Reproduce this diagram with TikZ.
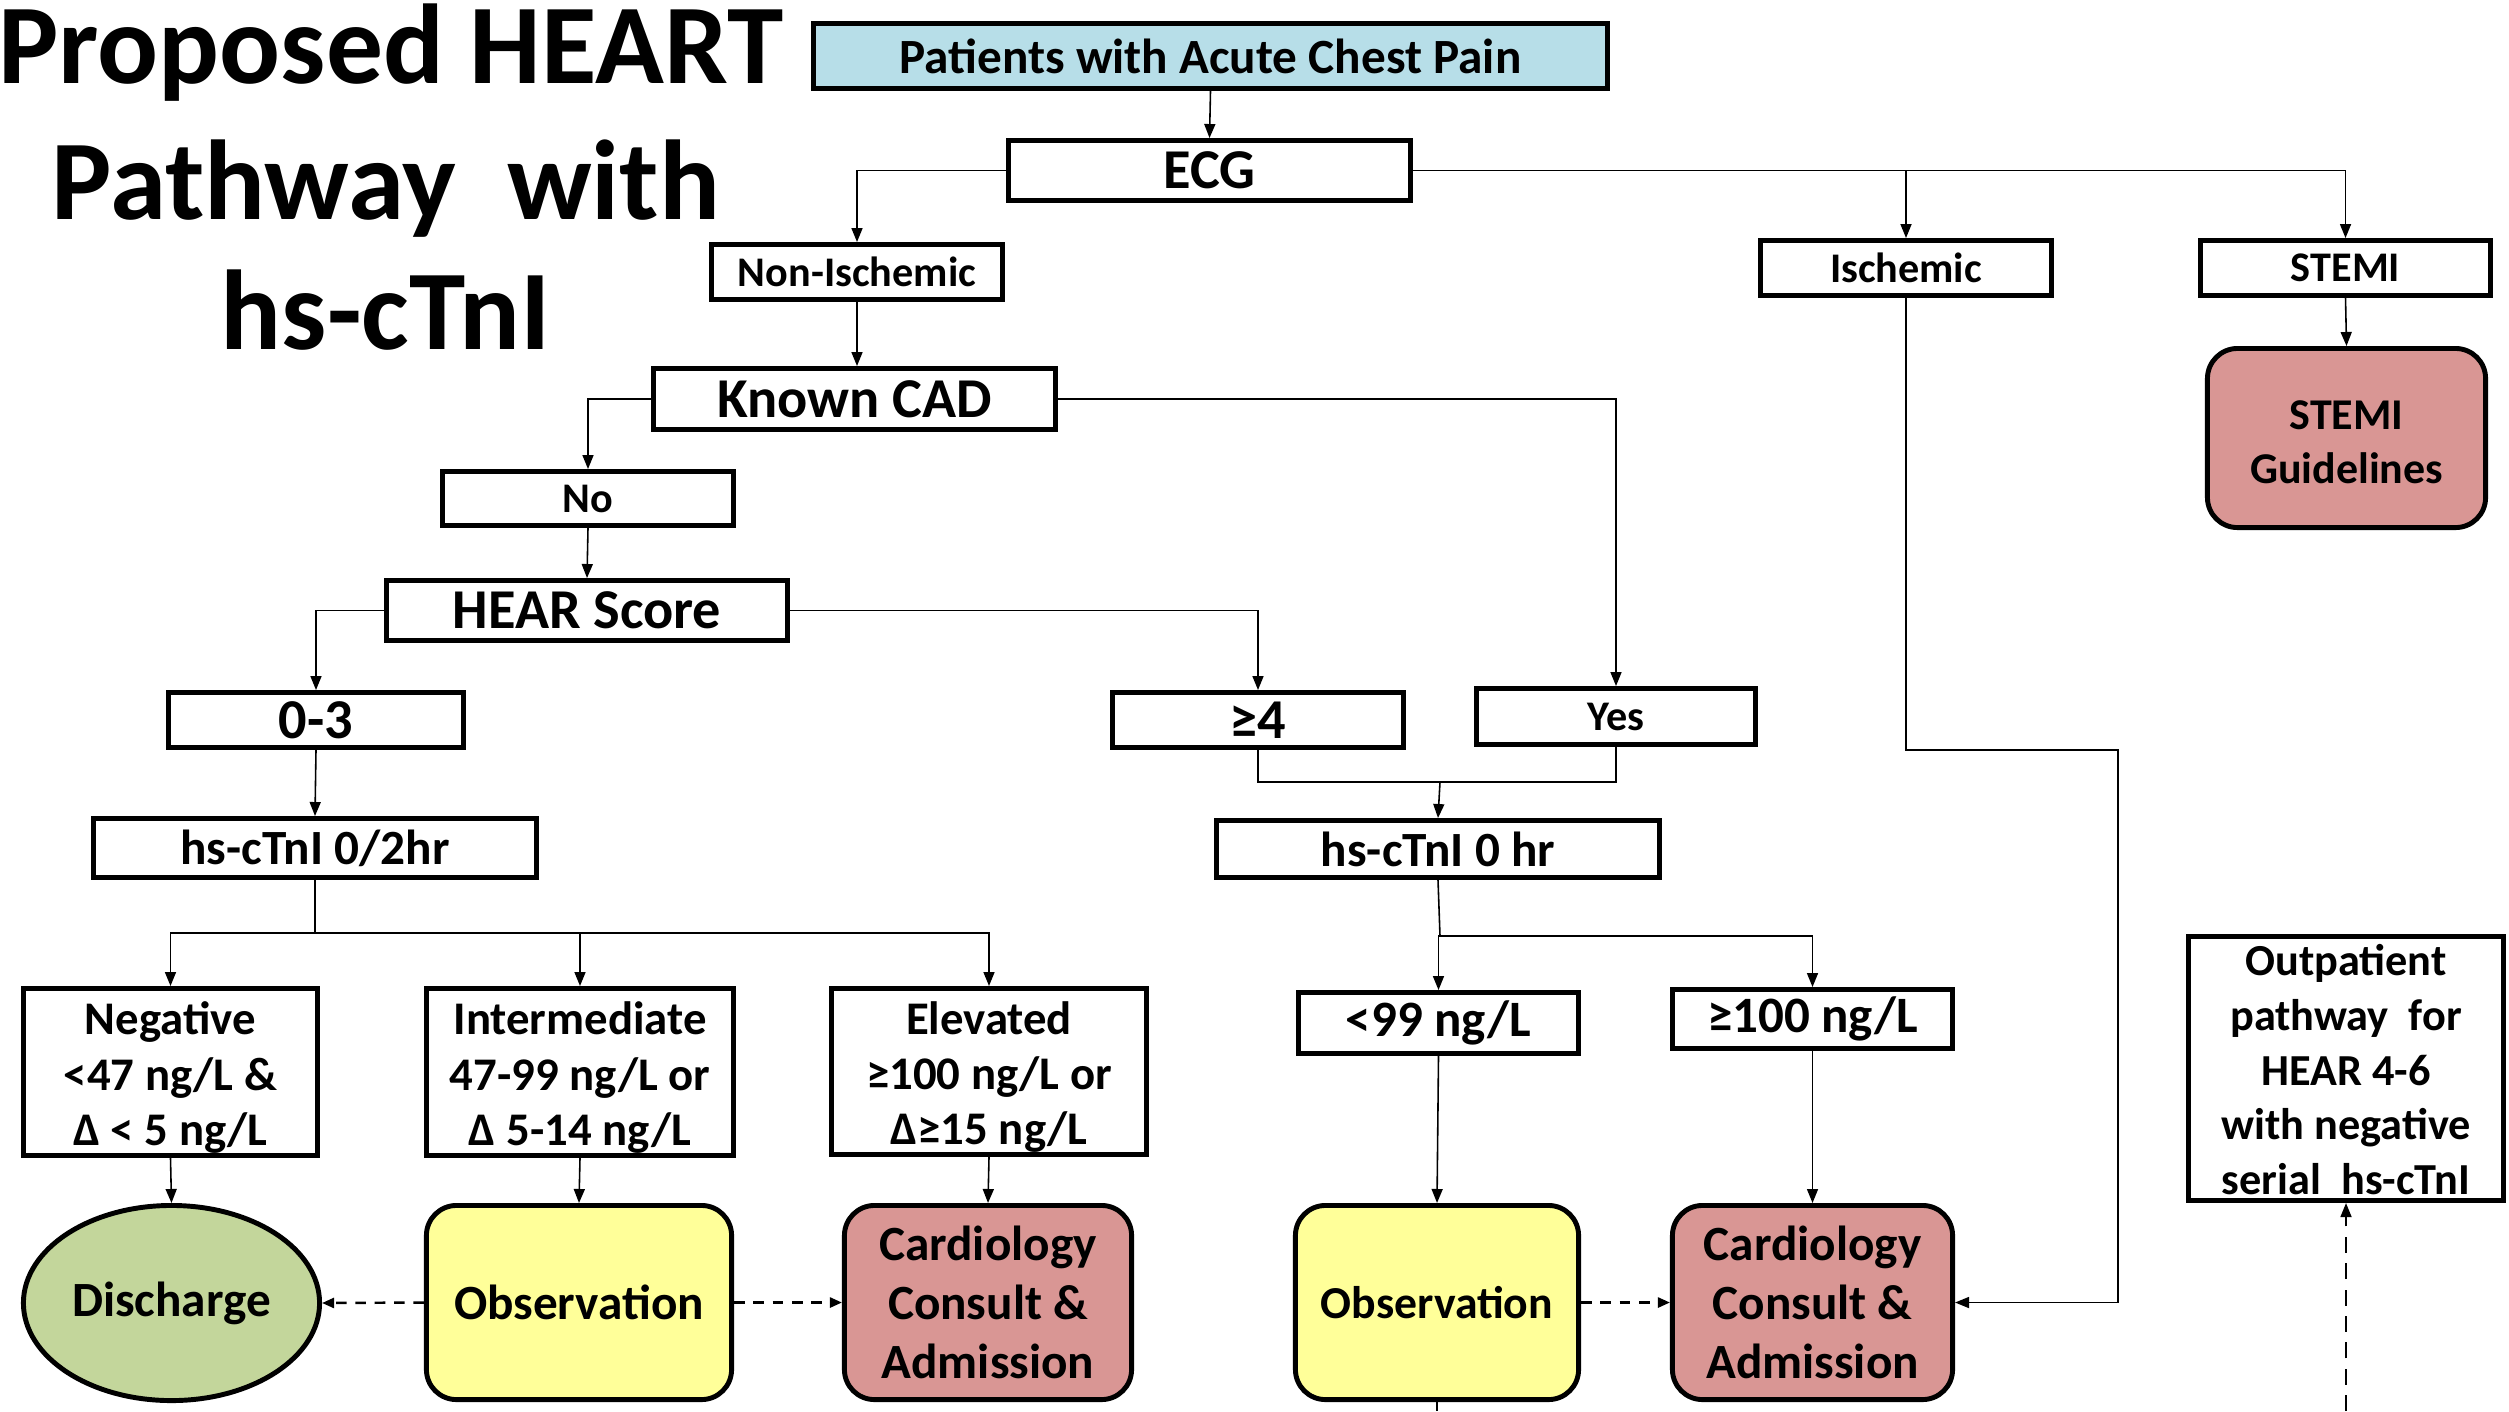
\documentclass[tikz,border=0pt]{standalone}
\usepackage{fontspec}
\setmainfont{Carlito}
\usetikzlibrary{arrows.meta,shapes.geometric}
\newcommand\fsz[2]{\fontsize{#1}{#2}\selectfont}
\newcommand\toppad[1]{\rule{0pt}{#1}}
\definecolor{startblue}{HTML}{B7DEE8}
\definecolor{dischgreen}{HTML}{C3D69B}
\definecolor{obsyellow}{HTML}{FFFF99}
\definecolor{admitred}{HTML}{D99694}
\tikzset{
  box/.style={draw=black, line width=1.4pt, fill=white, inner sep=0pt, align=center, font=\bfseries},
  outcome/.style={box, rounded corners=0.3cm},
  conn/.style={line width=0.45pt, -{Triangle[length=0.14cm,width=0.11cm]}},
  plain/.style={line width=0.45pt},
  alt/.style={line width=0.7pt, dashed, dash pattern=on 3pt off 2.5pt, -{Triangle[length=0.12cm,width=0.1cm]}},
  longdash/.style={line width=0.45pt, dash pattern=on 4.5pt off 3pt, -{Triangle[length=0.14cm,width=0.11cm]}},
  title/.style={anchor=base, inner sep=0pt, font=\bfseries\fsz{32.3pt}{37.6pt}}
}
\begin{document}
\begin{tikzpicture}[x=0.01cm, y=-0.01cm]
\useasboundingbox (0,0) rectangle (2509,1411);

% heading
\node[title] (t1) at (391,83) {Proposed HEART};
\node[title] (t2) at (386,219) {Pathway\ \ with};
\node[title] (t3) at (386,349) {hs-cTnI};

% top of the pathway
\node[box, fill=startblue, minimum width=7.94cm, minimum height=0.65cm, font=\bfseries\fsz{14pt}{17pt}] (pat) at (1210.5,56) {Patients with Acute Chest Pain};
\node[box, minimum width=4.02cm, minimum height=0.6cm, font=\bfseries\fsz{16pt}{19pt}] (ecg) at (1209.5,170.5) {ECG};
\node[box, minimum width=2.91cm, minimum height=0.55cm, font=\bfseries\fsz{12pt}{14pt}] (nonisch) at (857,272) {Non-Ischemic};
\node[box, minimum width=2.91cm, minimum height=0.55cm, font=\bfseries\fsz{12pt}{14pt}] (isch) at (1906,268) {Ischemic};
\node[box, minimum width=2.9cm, minimum height=0.55cm, font=\bfseries\fsz{12pt}{14pt}] (stemi) at (2345.5,268) {STEMI};
\node[outcome, fill=admitred, minimum width=2.78cm, minimum height=1.79cm, font=\bfseries\fsz{12.5pt}{15.4pt}] (stemig) at (2346.5,438) {\toppad{10.5pt}STEMI\\Guidelines};

% risk stratification
\node[box, minimum width=4.02cm, minimum height=0.61cm, font=\bfseries\fsz{16pt}{19pt}] (cad) at (854.5,399) {Known CAD};
\node[box, minimum width=2.91cm, minimum height=0.54cm, font=\bfseries\fsz{12pt}{14pt}] (no) at (588,498.5) {No};
\node[box, minimum width=4.01cm, minimum height=0.6cm, font=\bfseries\fsz{16pt}{19pt}] (hear) at (587,610.5) {HEAR Score};
\node[box, minimum width=2.95cm, minimum height=0.55cm, font=\bfseries\fsz{16pt}{19pt}] (z3) at (316,720) {0-3};
\node[box, minimum width=2.91cm, minimum height=0.55cm, font=\bfseries\fsz{16pt}{19pt}] (ge4) at (1258,720) {≥4};
\node[box, minimum width=2.79cm, minimum height=0.56cm, font=\bfseries\fsz{12pt}{14pt}] (yes) at (1616,716.5) {Yes};

% troponin testing
\node[box, minimum width=4.43cm, minimum height=0.59cm, font=\bfseries\fsz{14pt}{17pt}] (tn2) at (315,848) {hs-cTnI 0/2hr};
\node[box, minimum width=4.43cm, minimum height=0.57cm, font=\bfseries\fsz{14pt}{17pt}] (tn0) at (1438,849) {hs-cTnI 0 hr};

\node[box, minimum width=2.94cm, minimum height=1.67cm, font=\bfseries\fsz{13.3pt}{15.7pt}] (neg) at (170.5,1072) {\toppad{12.5pt}Negative\\<47 ng/L \&\\Δ < 5 ng/L};
\node[box, minimum width=3.07cm, minimum height=1.67cm, font=\bfseries\fsz{13.3pt}{15.7pt}] (inter) at (580,1072) {\toppad{12.5pt}Intermediate\\47-99 ng/L or\\Δ 5-14 ng/L};
\node[box, minimum width=3.15cm, minimum height=1.66cm, font=\bfseries\fsz{13.3pt}{15.7pt}] (elev) at (989,1071.5) {\toppad{12.5pt}Elevated\\≥100 ng/L or\\Δ≥15 ng/L};

\node[box, minimum width=2.8cm, minimum height=0.61cm, font=\bfseries\fsz{14.5pt}{17pt}] (lt99) at (1438.5,1023) {<99 ng/L};
\node[box, minimum width=2.8cm, minimum height=0.59cm, font=\bfseries\fsz{14.5pt}{17pt}] (ge100) at (1812.5,1019) {≥100 ng/L};

% dispositions
\node[box, ellipse, fill=dischgreen, minimum width=2.96cm, minimum height=1.95cm, font=\bfseries\fsz{14pt}{17pt}] (dis) at (171.5,1303) {Discharge};
\node[outcome, fill=obsyellow, minimum width=3.05cm, minimum height=1.94cm, font=\bfseries\fsz{14pt}{17pt}] (obs1) at (579,1302.5) {Observation};
\node[outcome, fill=admitred, minimum width=2.87cm, minimum height=1.94cm, font=\bfseries\fsz{14pt}{16.8pt}] (card1) at (988,1302.5) {Cardiology\\Consult \&\\Admission};
\node[outcome, fill=obsyellow, minimum width=2.83cm, minimum height=1.94cm, font=\bfseries\fsz{13pt}{16pt}] (obs2) at (1437,1302.5) {Observation};
\node[outcome, fill=admitred, minimum width=2.8cm, minimum height=1.94cm, font=\bfseries\fsz{14pt}{16.8pt}] (card2) at (1812.5,1302.5) {Cardiology\\Consult \&\\Admission};

\node[box, minimum width=3.15cm, minimum height=2.64cm, font=\bfseries\fsz{12.6pt}{15.6pt}] (outp) at (2346,1068.5) {\toppad{9.5pt}Outpatient\\pathway\ \ for\\HEAR 4-6\\with negative\\serial\ \ hs-cTnI};

% junction points of the connectors
\coordinate (jm) at (1440,782);
\coordinate (jt2) at (315,933);
\coordinate (jt0) at (1440,936);
\coordinate (jk) at (2118,750);
\coordinate (eobs) at (1437,1411);
\coordinate (eout) at (2346,1411);

% connectors
\draw[conn] (pat.south) -- (ecg.north);
\draw[conn] (ecg.west) -| (nonisch.north);
\draw[conn] (ecg.east) -| (isch.north);
\draw[conn] (ecg.east) -| (stemi.north);
\draw[conn] (stemi.south) -- (stemig.north);
\draw[conn] (nonisch.south) -- (nonisch.south |- cad.north);
\draw[conn] (cad.west) -| (no.north);
\draw[conn] (cad.east) -| (yes.north);
\draw[conn] (no.south) -- (hear.north);
\draw[conn] (hear.west) -| (z3.north);
\draw[conn] (hear.east) -| (ge4.north);
\draw[conn] (z3.south) -- (tn2.north);
\draw[plain] (ge4.south) |- (jm) -| (yes.south);
\draw[conn] (jm) -- (tn0.north);

\draw[plain] (tn2.south) -- (jt2);
\draw[conn] (jt2) -| (neg.north);
\draw[conn] (jt2) -| (inter.north);
\draw[conn] (jt2) -| (elev.north);
\draw[conn] (neg.south) -- (dis.north);
\draw[conn] (inter.south) -- (obs1.north);
\draw[conn] (elev.south) -- (card1.north);

\draw[plain] (tn0.south) -- (jt0);
\draw[conn] (jt0) -| (lt99.north);
\draw[conn] (jt0) -| (ge100.north);
\draw[conn] (lt99.south) -- (obs2.north);
\draw[conn] (ge100.south) -- (card2.north);

\draw[conn] (isch.south) |- (jk) |- (card2.east);

\draw[alt] (obs1.west) -- (dis.east);
\draw[alt] (obs1.east) -- (card1.west);
\draw[alt] (obs2.east) -- (card2.west);

\draw[plain] (obs2.south) -- (eobs);
\draw[longdash] (eout) -- (outp.south);
\end{tikzpicture}
\end{document}
